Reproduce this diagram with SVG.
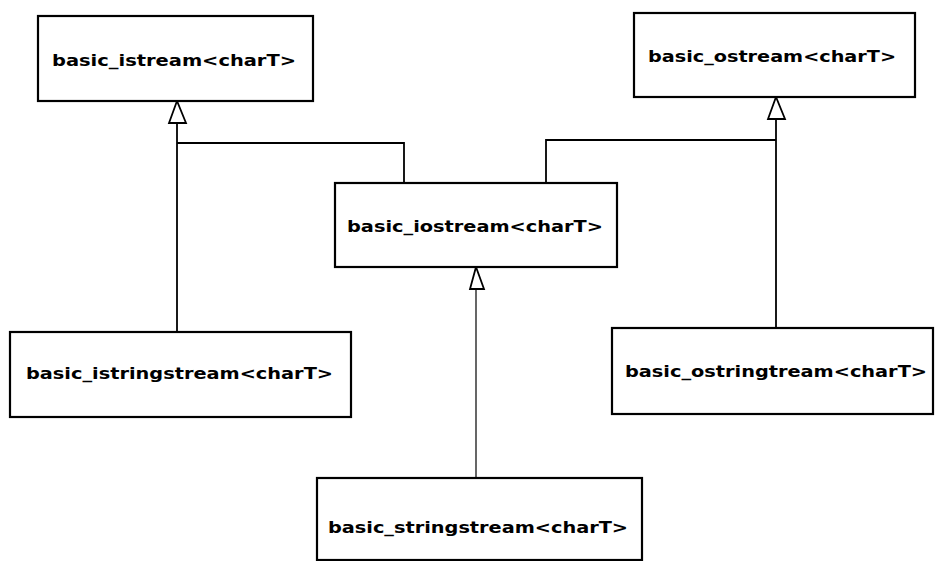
<svg xmlns="http://www.w3.org/2000/svg" width="936" height="561" viewBox="0 0 936 561">
<style>
.box{fill:#fff;stroke:#000;stroke-width:2.2}
.lbl{font-family:"DejaVu Sans","Liberation Sans",sans-serif;font-weight:bold;font-size:16px;fill:#000}
.ln{fill:none;stroke:#000;stroke-width:1.8}
.thin{fill:none;stroke:#000;stroke-width:1.2}
.tri{fill:#fff;stroke:#000;stroke-width:1.8;stroke-linejoin:miter}
</style>
<rect width="936" height="561" fill="#fff"/>
<g id="connectors">
<path class="ln" d="M177,123 V332"/>
<path class="ln" d="M177,143 H404 V183"/>
<path class="ln" d="M776,119 V328"/>
<path class="ln" d="M776,140 H546 V183"/>
<path class="thin" d="M476,289 V478"/>
<polygon class="tri" points="177,101 169,123 186,123"/>
<polygon class="tri" points="776,97 768,119 785,119"/>
<polygon class="tri" points="476,267 470,289 484,289"/>
</g>
<g id="basic_istream">
<rect class="box" x="38" y="16" width="275" height="85"/>
<text class="lbl" x="52" y="66" textLength="244" lengthAdjust="spacingAndGlyphs">basic_istream&lt;charT&gt;</text>
</g>
<g id="basic_ostream">
<rect class="box" x="634" y="13" width="281" height="84"/>
<text class="lbl" x="648" y="62" textLength="248" lengthAdjust="spacingAndGlyphs">basic_ostream&lt;charT&gt;</text>
</g>
<g id="basic_iostream">
<rect class="box" x="335" y="183" width="282" height="84"/>
<text class="lbl" x="347" y="232" textLength="256" lengthAdjust="spacingAndGlyphs">basic_iostream&lt;charT&gt;</text>
</g>
<g id="basic_istringstream">
<rect class="box" x="10" y="332" width="341" height="85"/>
<text class="lbl" x="26" y="379" textLength="307" lengthAdjust="spacingAndGlyphs">basic_istringstream&lt;charT&gt;</text>
</g>
<g id="basic_ostringtream">
<rect class="box" x="612" y="328" width="321" height="86"/>
<text class="lbl" x="625" y="377" textLength="302" lengthAdjust="spacingAndGlyphs">basic_ostringtream&lt;charT&gt;</text>
</g>
<g id="basic_stringstream">
<rect class="box" x="317" y="478" width="325" height="82"/>
<text class="lbl" x="328" y="533" textLength="300" lengthAdjust="spacingAndGlyphs">basic_stringstream&lt;charT&gt;</text>
</g>
</svg>
